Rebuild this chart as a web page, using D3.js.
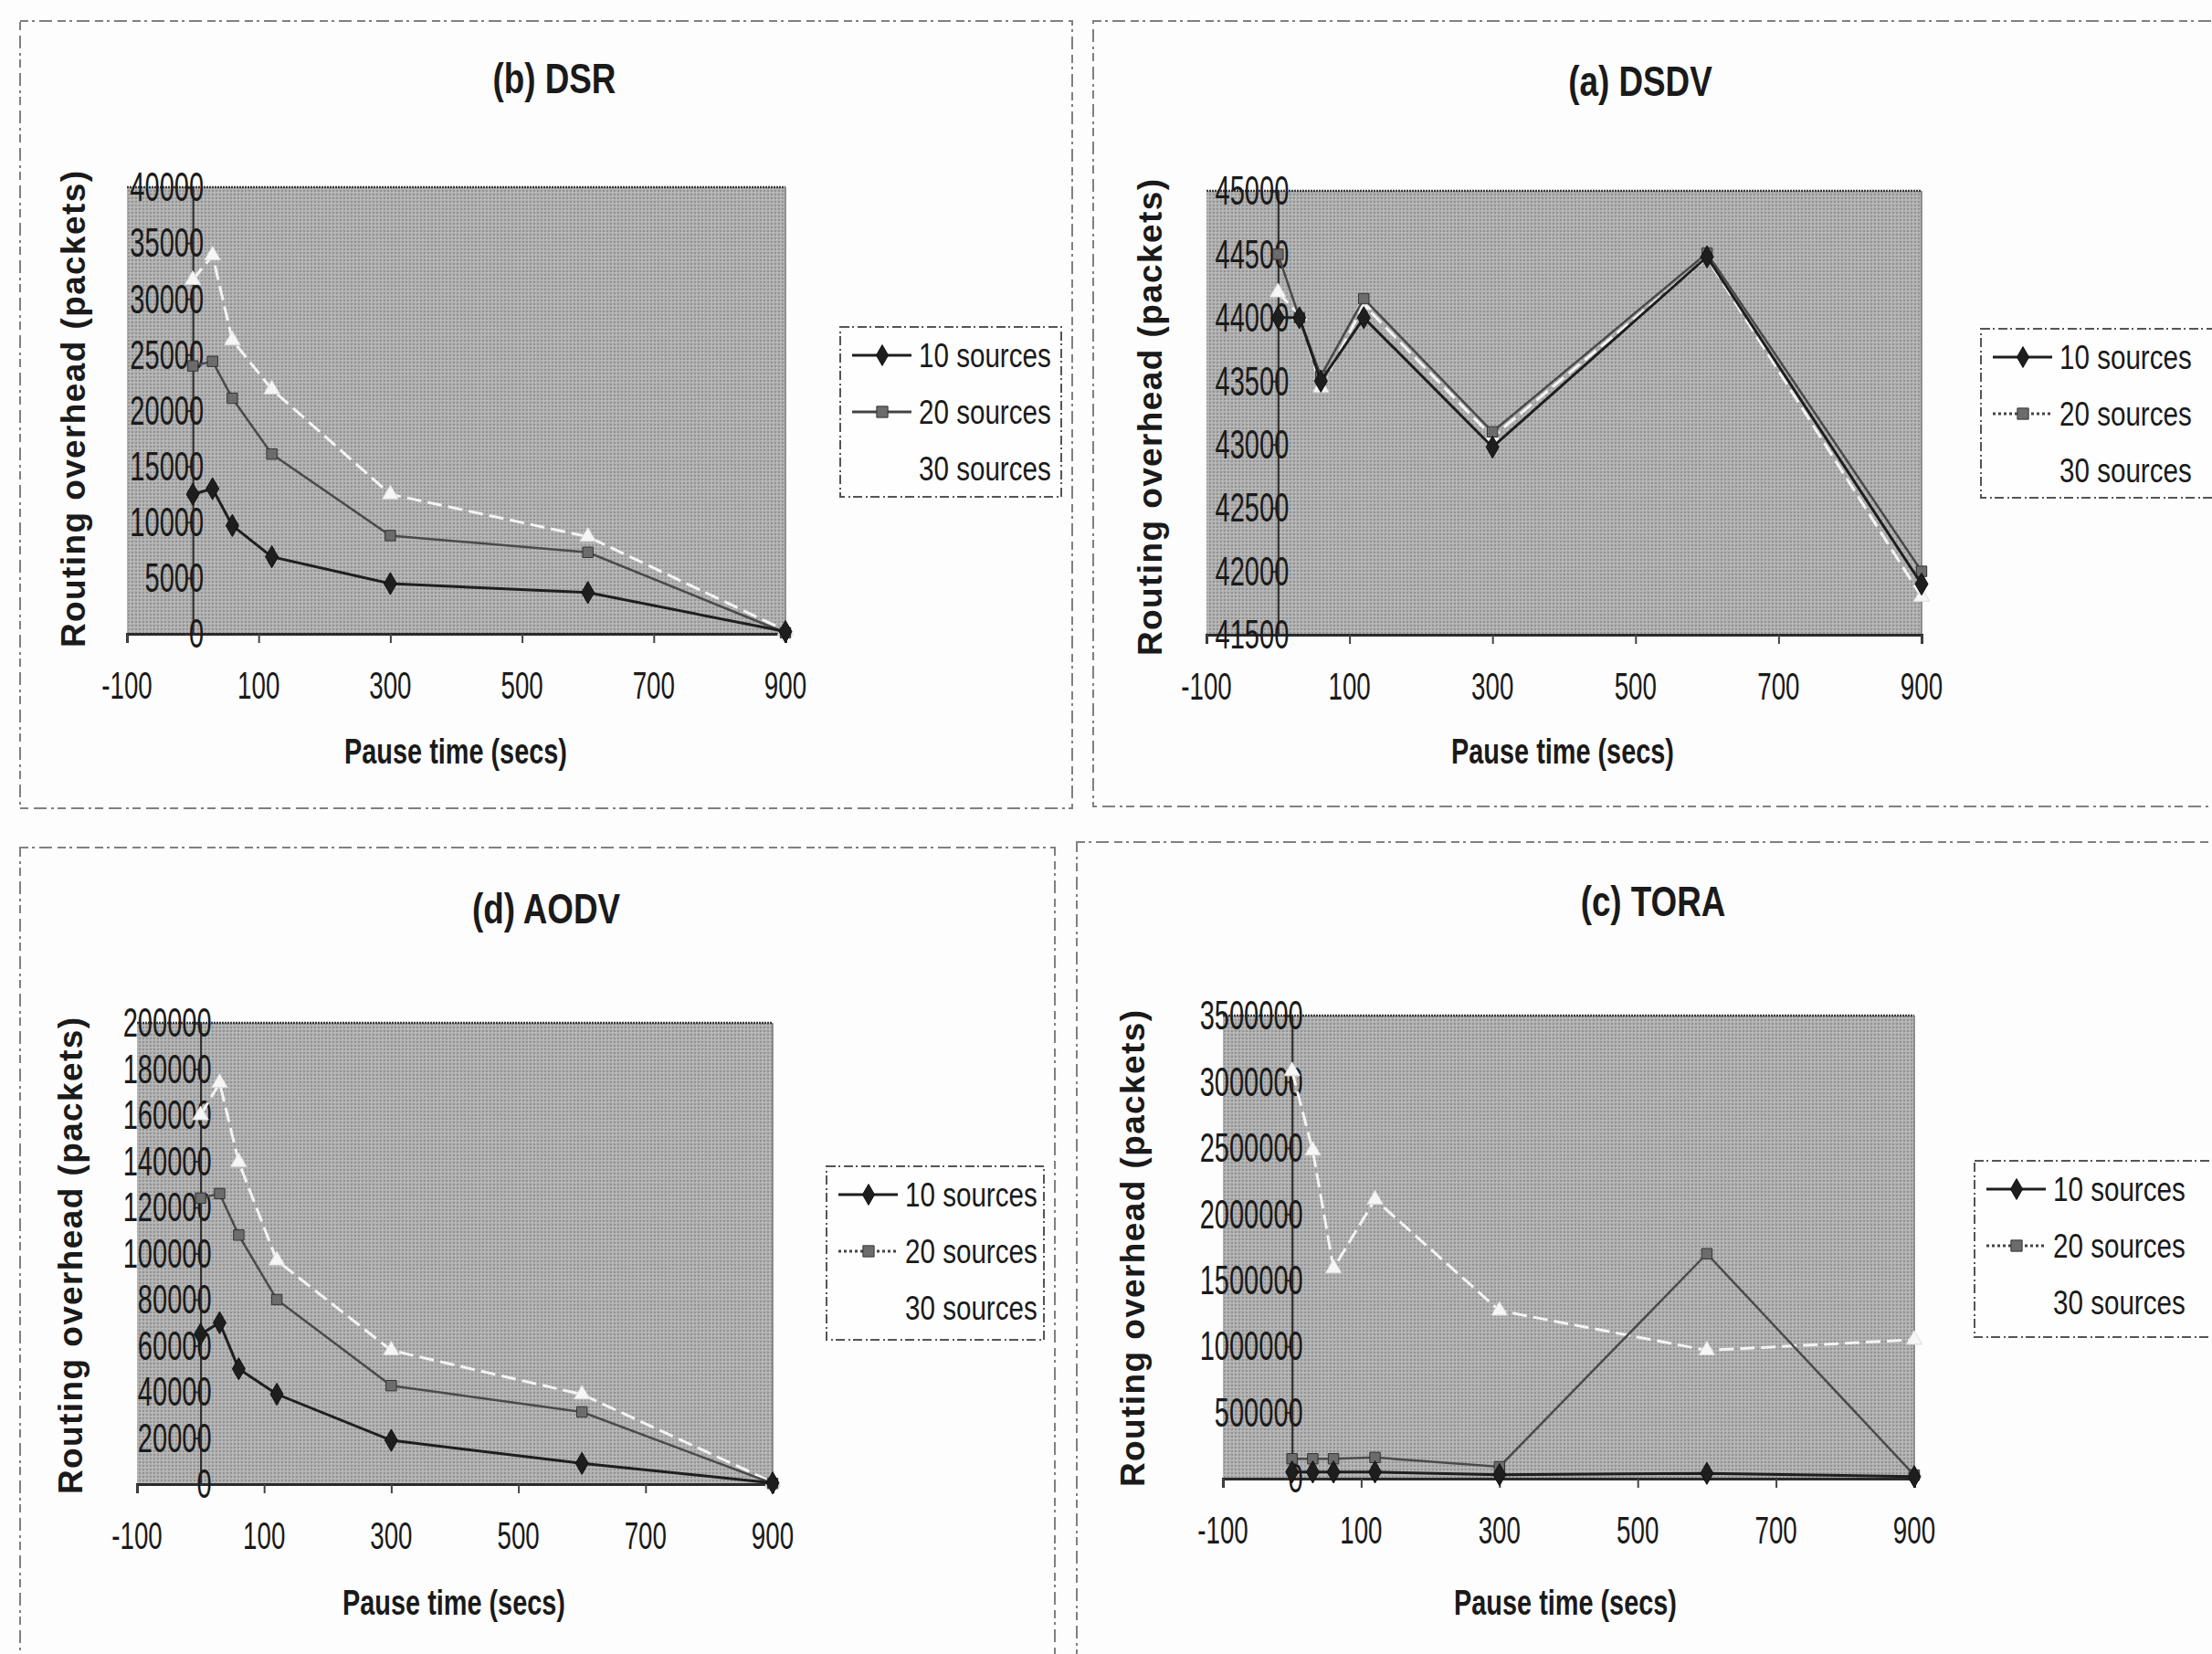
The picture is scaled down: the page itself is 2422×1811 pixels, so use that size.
<!DOCTYPE html>
<html>
<head>
<meta charset="utf-8">
<script src="https://cdn.jsdelivr.net/npm/d3@7"></script>
<style>
  body { margin: 0; background: #fff; }
  svg { display: block; }
</style>
</head>
<body>
<div id="chart"></div>
<script>
// ---- data ----
const pauseTimes = [0, 30, 60, 120, 300, 600, 900];
const seriesNames = ["10 sources", "20 sources", "30 sources"];
const xTicks = [-100, 100, 300, 500, 700, 900];

const dsr10 = [12500, 13000, 9700, 6900, 4500, 3700, 200];
const dsr20 = [24000, 24400, 21100, 16100, 8800, 7300, 100];
const dsr30 = [31700, 33900, 26300, 21900, 12500, 8700, 300];
const dsrTicks = [0, 5000, 10000, 15000, 20000, 25000, 30000, 35000, 40000];

const dsdv10 = [44000, 44000, 43500, 44000, 42980, 44480, 41900];
const dsdv20 = [44500, 44000, 43540, 44150, 43100, 44510, 42000];
const dsdv30 = [44200, 44020, 43450, 44100, 43060, 44470, 41800];
const dsdvTicks = [41500, 42000, 42500, 43000, 43500, 44000, 44500, 45000];

const aodv10 = [65000, 70000, 50000, 39000, 19000, 9000, 500];
const aodv20 = [124000, 126000, 108000, 80000, 42700, 31300, 300];
const aodv30 = [160000, 174000, 139700, 97000, 58000, 38900, 800];
const aodvTicks = [0, 20000, 40000, 60000, 80000, 100000, 120000, 140000, 160000, 180000, 200000];

const tora10 = [50000, 50000, 50000, 50000, 30000, 40000, 15000];
const tora20 = [150000, 150000, 150000, 160000, 90000, 1700000, 27000];
const tora30 = [3080000, 2480000, 1590000, 2110000, 1270000, 970000, 1050000];
const toraTicks = [0, 500000, 1000000, 1500000, 2000000, 2500000, 3000000, 3500000];

// ---- layout of the four panels (page pixels) ----
const panels = [
  {title: "(b) DSR", series: [dsr10, dsr20, dsr30], ticks: dsrTicks, dotted20: false,
   border: [22, 23, 1174, 885], plot: [139, 205, 860, 694], titleXY: [607, 86],
   xTitleXY: [499, 822], yTitleXY: [80, 448], legend: [920, 358, 1162, 544]},
  {title: "(a) DSDV", series: [dsdv10, dsdv20, dsdv30], ticks: dsdvTicks, dotted20: true,
   border: [1197, 23, 2450, 883], plot: [1321, 209, 2104, 695], titleXY: [1796, 89],
   xTitleXY: [1711, 822], yTitleXY: [1259, 457], legend: [2169, 360, 2450, 545]},
  {title: "(d) AODV", series: [aodv10, aodv20, aodv30], ticks: aodvTicks, dotted20: true,
   border: [22, 928, 1155, 1840], plot: [150, 1120, 846, 1625], titleXY: [598, 995],
   xTitleXY: [497, 1754], yTitleXY: [77, 1375], legend: [905, 1277, 1143, 1467]},
  {title: "(c) TORA", series: [tora10, tora20, tora30], ticks: toraTicks, dotted20: true,
   border: [1179, 922, 2450, 1840], plot: [1339, 1112, 2096, 1619], titleXY: [1810, 987],
   xTitleXY: [1714, 1754], yTitleXY: [1240, 1367], legend: [2162, 1271, 2450, 1464]}
];

const W = 2422, H = 1811;
const font = "'Liberation Sans', Arial, sans-serif";

const svg = d3.select("#chart").append("svg")
  .attr("width", W)
  .attr("height", H)
  .style("font-family", font);

svg.append("rect").attr("width", W).attr("height", H).attr("fill", "#fdfdfd");

// halftone grey used by the scanned plot areas
const defs = svg.append("defs");
const pat = defs.append("pattern")
  .attr("id", "halftone")
  .attr("width", 4).attr("height", 4)
  .attr("patternUnits", "userSpaceOnUse");
pat.append("rect").attr("width", 4).attr("height", 4).attr("fill", "#b1b1b1");
pat.append("rect").attr("x", 0).attr("y", 0).attr("width", 2).attr("height", 2).attr("fill", "#929292");
pat.append("rect").attr("x", 2).attr("y", 2).attr("width", 1).attr("height", 1).attr("fill", "#cbcbcb");

// text squeezed horizontally, like the condensed face of the original
function squeezed(g, x, y, txt, size, sx, anchor, weight) {
  return g.append("text")
    .attr("transform", `translate(${x},${y}) scale(${sx},1)`)
    .attr("text-anchor", anchor)
    .attr("dominant-baseline", "central")
    .style("font-size", size + "px")
    .style("font-weight", weight || "normal")
    .attr("fill", "#1a1a1a")
    .text(txt);
}

panels.forEach(p => {
  const g = svg.append("g");
  const [bx0, by0, bx1, by1] = p.border;
  const [px0, py0, px1, py1] = p.plot;

  // dashed panel frame from the scan
  g.append("rect")
    .attr("x", bx0).attr("y", by0)
    .attr("width", bx1 - bx0).attr("height", by1 - by0)
    .attr("fill", "none")
    .attr("stroke", "#808080")
    .attr("stroke-width", 2)
    .attr("stroke-dasharray", "9 4 3 5 14 6");

  const x = d3.scaleLinear().domain([-100, 900]).range([px0, px1]);
  const y = d3.scaleLinear().domain(d3.extent(p.ticks)).range([py1, py0]);

  // plot area
  g.append("rect")
    .attr("x", px0).attr("y", py0)
    .attr("width", px1 - px0).attr("height", py1 - py0)
    .attr("fill", "url(#halftone)");
  g.append("line")
    .attr("x1", px0).attr("x2", px1).attr("y1", py0).attr("y2", py0)
    .attr("stroke", "#3a3a3a").attr("stroke-width", 2.5)
    .attr("stroke-dasharray", "2 1");
  g.append("line")
    .attr("x1", px1).attr("x2", px1).attr("y1", py0).attr("y2", py1)
    .attr("stroke", "#777").attr("stroke-width", 1.5);

  // x axis along the bottom, y axis crossing at 0
  const xAxis = d3.axisBottom(x).tickValues(xTicks).tickSize(10).tickFormat("");
  g.append("g")
    .attr("transform", `translate(0,${py1})`)
    .call(xAxis)
    .call(a => a.select(".domain").attr("stroke", "#2a2a2a").attr("stroke-width", 3))
    .call(a => a.selectAll(".tick line").attr("stroke", "#444").attr("stroke-width", 2));

  const yAxis = d3.axisLeft(y).tickValues(p.ticks).tickSize(8).tickFormat("");
  g.append("g")
    .attr("transform", `translate(${x(0)},0)`)
    .call(yAxis)
    .call(a => a.select(".domain").attr("stroke", "#2a2a2a").attr("stroke-width", 2))
    .call(a => a.selectAll(".tick line").attr("stroke", "#333").attr("stroke-width", 2));

  // tick labels
  xTicks.forEach(t => squeezed(g, x(t), py1 + 57, String(t), 42, 0.66, "middle"));
  p.ticks.forEach(t => squeezed(g, x(0) + 12, y(t), String(t), 44, 0.66, "end"));

  // titles
  squeezed(g, p.titleXY[0], p.titleXY[1], p.title, 46, 0.8, "middle", "bold");
  squeezed(g, p.xTitleXY[0], p.xTitleXY[1], "Pause time (secs)", 38, 0.76, "middle", "bold");
  g.append("text")
    .attr("transform", `translate(${p.yTitleXY[0]},${p.yTitleXY[1]}) rotate(-90)`)
    .attr("text-anchor", "middle")
    .attr("dominant-baseline", "central")
    .attr("textLength", 522)
    .attr("lengthAdjust", "spacing")
    .style("font-size", "37px")
    .style("font-weight", "bold")
    .attr("fill", "#1a1a1a")
    .text("Routing overhead (packets)");

  // series
  const line = d3.line().x((d, i) => x(pauseTimes[i])).y(d => y(d));
  const styles = [
    {stroke: "#1e1e1e", width: 3, dash: null},
    {stroke: "#4a4a4a", width: 2.5, dash: null},
    {stroke: "#f4f4f4", width: 3, dash: "16 7"}
  ];
  const sym = [d3.symbolDiamond, d3.symbolSquare, d3.symbolTriangle];
  const symFill = ["#1e1e1e", "#6c6c6c", "#f6f6f6"];
  const symStroke = ["#111", "#333", "#ddd"];

  // draw 30, then 20, then 10 on top
  [2, 1, 0].forEach(k => {
    g.append("path")
      .datum(p.series[k])
      .attr("d", line)
      .attr("fill", "none")
      .attr("stroke", styles[k].stroke)
      .attr("stroke-width", styles[k].width)
      .attr("stroke-dasharray", styles[k].dash);
    g.selectAll(null)
      .data(p.series[k])
      .join("path")
      .attr("transform", (d, i) => `translate(${x(pauseTimes[i])},${y(d)})`)
      .attr("d", d3.symbol(sym[k], k === 0 ? 170 : 130))
      .attr("fill", symFill[k])
      .attr("stroke", symStroke[k])
      .attr("stroke-width", 1);
  });

  // legend
  const [lx0, ly0, lx1, ly1] = p.legend;
  g.append("rect")
    .attr("x", lx0).attr("y", ly0)
    .attr("width", lx1 - lx0).attr("height", ly1 - ly0)
    .attr("fill", "#fefefe")
    .attr("stroke", "#555")
    .attr("stroke-width", 2)
    .attr("stroke-dasharray", "10 3 2 4");

  seriesNames.forEach((name, k) => {
    const ry = ly0 + 31 + k * 62;
    if (k < 2) {
      g.append("line")
        .attr("x1", lx0 + 13).attr("x2", lx0 + 78)
        .attr("y1", ry).attr("y2", ry)
        .attr("stroke", k === 0 ? "#1e1e1e" : "#444")
        .attr("stroke-width", 3)
        .attr("stroke-dasharray", k === 1 && p.dotted20 ? "3 3" : null);
      g.append("path")
        .attr("transform", `translate(${lx0 + 46},${ry})`)
        .attr("d", d3.symbol(sym[k], 150))
        .attr("fill", symFill[k])
        .attr("stroke", symStroke[k]);
    }
    squeezed(g, lx0 + 86, ry, name, 37, 0.8, "start");
  });
});
</script>
</body>
</html>
